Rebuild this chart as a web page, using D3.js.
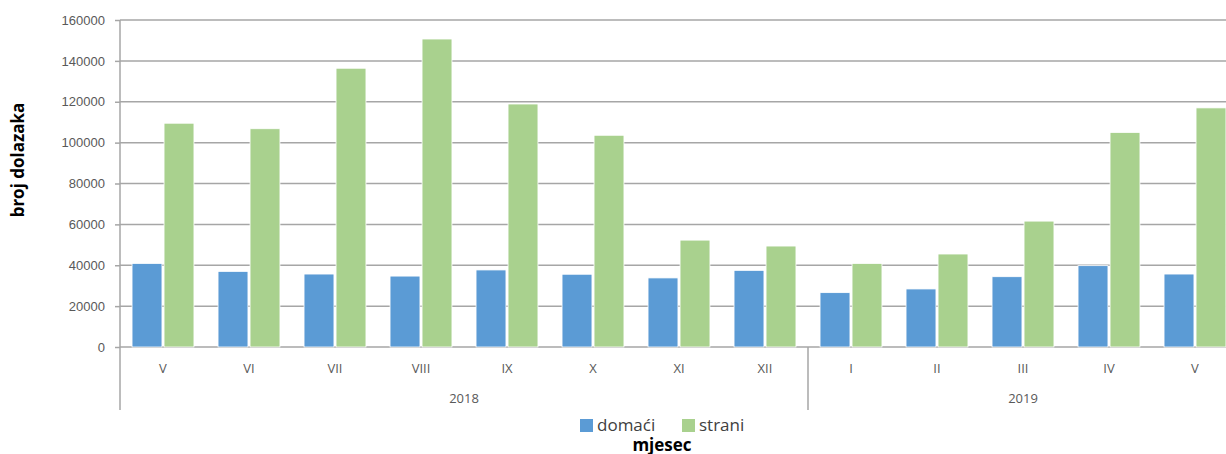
<!DOCTYPE html>
<html>
<head>
<meta charset="utf-8">
<script src="https://cdn.jsdelivr.net/npm/d3@7/dist/d3.min.js"></script>
<style>
  body { margin: 0; background: #fff; }
  svg { display: block; font-family: "Open Sans", sans-serif; }
  .tick text { fill: #595959; font-size: 13px; }
</style>
</head>
<body>
<svg width="1226" height="454"></svg>
<script>
var months = ["V", "VI", "VII", "VIII", "IX", "X", "XI", "XII", "I", "II", "III", "IV", "V"];
var years = ["2018", "2019"];
var yearSpan = [8, 5]; // how many months per year
var domaci = [40900, 37000, 35700, 34700, 37700, 35600, 33800, 37500, 26600, 28400, 34400, 39800, 35700];
var strani = [109500, 106800, 136400, 150700, 118900, 103600, 52300, 49400, 40900, 45500, 61600, 105000, 117000];
var series = ["domaći", "strani"];
var colors = ["#5b9bd5", "#a9d18e"];
var yTicks = [0, 20000, 40000, 60000, 80000, 100000, 120000, 140000, 160000];

var svg = d3.select("svg"),
    margin = { top: 20, left: 120 },
    width = 86 * months.length,
    height = 327;

var idx = months.map(function (d, i) { return i; });

var x = d3.scaleBand().domain(idx).range([0, width]).paddingInner(0.28).paddingOuter(0.14);
var x1 = d3.scaleBand().domain([0, 1]).range([0, x.bandwidth()]).paddingInner(0.065);
var y = d3.scaleLinear().domain([0, 160000]).range([height, 0]);

var g = svg.append("g")
    .attr("transform", "translate(" + margin.left + "," + margin.top + ")");

// gridlines
g.append("g")
    .selectAll("line")
    .data(yTicks)
    .enter().append("line")
    .attr("x1", 0)
    .attr("x2", width)
    .attr("y1", function (d) { return y(d); })
    .attr("y2", function (d) { return y(d); })
    .attr("stroke", "#a6a6a6")
    .attr("stroke-width", 1.5);

// y axis
var yAxis = g.append("g")
    .call(d3.axisLeft(y).tickValues(yTicks).tickSize(5).tickPadding(10).tickFormat(d3.format("d")));
yAxis.select(".domain").attr("stroke", "#a6a6a6").attr("stroke-width", 1.5).attr("d", "M0,0V" + (height + 63));
yAxis.selectAll(".tick line").attr("stroke", "#a6a6a6").attr("stroke-width", 1.5);

// bars
var groups = g.selectAll(".grp")
    .data(idx)
    .enter().append("g")
    .attr("class", "grp")
    .attr("transform", function (i) { return "translate(" + x(i) + ",0)"; });

groups.selectAll("rect")
    .data(function (i) { return [domaci[i], strani[i]]; })
    .enter().append("rect")
    .attr("x", function (d, j) { return x1(j); })
    .attr("y", function (d) { return y(d); })
    .attr("width", x1.bandwidth())
    .attr("height", function (d) { return height - y(d); })
    .attr("fill", function (d, j) { return colors[j]; })
    .attr("stroke", "#ffffff")
    .attr("stroke-width", 0.8);

// month labels
g.append("g")
    .selectAll("text")
    .data(months)
    .enter().append("text")
    .attr("x", function (d, i) { return x(i) + x.bandwidth() / 2; })
    .attr("y", height + 26)
    .attr("text-anchor", "middle")
    .attr("fill", "#595959")
    .attr("font-size", 13)
    .text(function (d) { return d; });

// year labels and divider
var step = x.step();
var start = 0;
years.forEach(function (yr, k) {
    var end = start + yearSpan[k];
    g.append("text")
        .attr("x", (start + end) / 2 * step)
        .attr("y", height + 56)
        .attr("text-anchor", "middle")
        .attr("fill", "#595959")
        .attr("font-size", 13)
        .text(yr);
    if (k < years.length - 1) {
        g.append("line")
            .attr("x1", end * step).attr("x2", end * step)
            .attr("y1", height).attr("y2", height + 63)
            .attr("stroke", "#a6a6a6").attr("stroke-width", 1.5);
    }
    start = end;
});

// y title
svg.append("text")
    .attr("transform", "translate(24,160) rotate(-90)")
    .attr("text-anchor", "middle")
    .attr("font-size", 17)
    .attr("font-weight", "bold")
    .attr("fill", "#000")
    .text("broj dolazaka");

// legend
var legend = svg.append("g").attr("transform", "translate(580,419)");
var lx = [0, 102];
series.forEach(function (s, i) {
    legend.append("rect")
        .attr("x", lx[i]).attr("y", 0)
        .attr("width", 13).attr("height", 13)
        .attr("fill", colors[i]);
    legend.append("text")
        .attr("x", lx[i] + 17).attr("y", 12)
        .attr("font-size", 17)
        .attr("fill", "#404040")
        .text(s);
});

// x title
svg.append("text")
    .attr("x", 662)
    .attr("y", 451)
    .attr("text-anchor", "middle")
    .attr("font-size", 17)
    .attr("font-weight", "bold")
    .attr("fill", "#000")
    .text("mjesec");
</script>
</body>
</html>
